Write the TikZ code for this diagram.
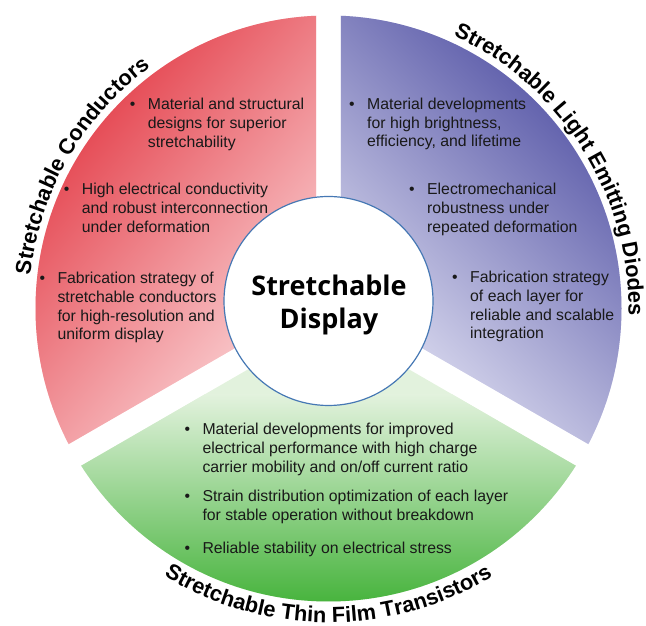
\documentclass[tikz,border=0pt]{standalone}
\usepackage{fontspec}
\setmainfont{Liberation Sans}
\newfontfamily\corefont{Open Sans}
\usetikzlibrary{decorations.text}

\definecolor{redDark}{RGB}{230,78,88}
\definecolor{redLight}{RGB}{251,214,216}
\definecolor{blueDark}{RGB}{100,100,174}
\definecolor{blueLight}{RGB}{222,222,241}
\definecolor{greenDark}{RGB}{72,180,62}
\definecolor{greenLight}{RGB}{226,242,221}
\definecolor{rimBlue}{RGB}{70,120,180}
\definecolor{bodyInk}{RGB}{25,25,25}

\newcommand\titlefont{\fontsize{21.8}{24}\selectfont\bfseries}

\tikzset{
  bodytext/.style={inner sep=0pt, text=bodyInk, font=\fontsize{15.8}{18.6}\selectfont},
  coretext/.style={inner sep=0pt, text=black, font=\corefont\bfseries\fontsize{27}{33}\selectfont},
  arctitle/.style={decorate, decoration={text along path, text align=center,
      text={|\titlefont|#1}}},
}

% one ring segment: the lower segment turned about the centre by #1;
% its shading is turned by #2 and runs from #3 (at height #5) to #4 (rim)
\newcommand\sectorfill[5]{%
  \begin{scope}
    \clip (328.5,317.5) circle[radius=293];
    \clip[rotate around={#1:(328.5,317.5)}] (328.5,303.07) -- (-17.91,103.07)
          -- (-17.91,-100) -- (674.91,-100) -- (674.91,103.07) -- cycle;
    \begin{scope}[transform canvas={rotate around={#2:(328.5,317.5)}}]
      \fill[#3] (-100,-100) rectangle (760,720);
      \shade[top color=#3, bottom color=#4] (20,24.5) rectangle (640,#5);
    \end{scope}
  \end{scope}}

% a bullet followed by its lines of text
\newcommand\bulletblock[4]{%
  \node[bodytext, anchor=base] (#1-dot) at (#2-15,#3) {•};
  \foreach \txt [count=\k] in {#4}{%
    \node[bodytext, anchor=base west] (#1-\k) at (#2,#3-18.6*\k+18.6) {\txt};}}

\begin{document}
\begin{tikzpicture}[x=1pt,y=1pt]
  \useasboundingbox (0,0) rectangle (646,626);
  \coordinate (O) at (328.5,317.5);

  % ring segments
  \sectorfill{0}{0}{greenLight}{greenDark}{231}
  \sectorfill{-120}{-130}{redLight}{redDark}{317.5}
  \sectorfill{120}{136}{blueLight}{blueDark}{317.5}

  % centre disc
  \node[circle, draw=rimBlue, line width=1.2pt, fill=white,
        minimum size=209pt, inner sep=0pt] (core) at (328.5,325) {};
  \node[coretext, anchor=base] (core-top) at (329,330.5) {Stretchable};
  \node[coretext, anchor=base] (core-bottom) at (329,297.7) {Display};

  % segment titles along the rim
  \path[arctitle={Stretchable Conductors}]
    ([shift={(190:300)}]O) arc[start angle=190, end angle=110, radius=300];
  \path[arctitle={Stretchable Light Emitting Diodes}]
    ([shift={(82:300)}]O) arc[start angle=82, end angle=-18, radius=300];
  \path[arctitle={Stretchable Thin Film Transistors}]
    ([shift={(220:314)}]O) arc[start angle=220, end angle=320, radius=314];

  % conductors
  \bulletblock{rc1}{147.7}{516}{Material and structural, designs for superior, stretchability}
  \bulletblock{rc2}{81.7}{431}{High electrical conductivity, and robust interconnection, under deformation}
  \bulletblock{rc3}{57.3}{342}{Fabrication strategy of, stretchable conductors, for high-resolution and, uniform display}

  % light emitting diodes
  \bulletblock{bl1}{367}{516.5}{Material developments, {for high brightness,}, {efficiency, and lifetime}}
  \bulletblock{bl2}{427}{431}{Electromechanical, robustness under, repeated deformation}
  \bulletblock{bl3}{470}{343}{Fabrication strategy, of each layer for, reliable and scalable, integration}

  % thin film transistors
  \bulletblock{gt1}{202.3}{191}{Material developments for improved, electrical performance with high charge, carrier mobility and on/off current ratio}
  \bulletblock{gt2}{202.3}{124.5}{Strain distribution optimization of each layer, for stable operation without breakdown}
  \bulletblock{gt3}{202.3}{72.8}{Reliable stability on electrical stress}
\end{tikzpicture}
\end{document}
